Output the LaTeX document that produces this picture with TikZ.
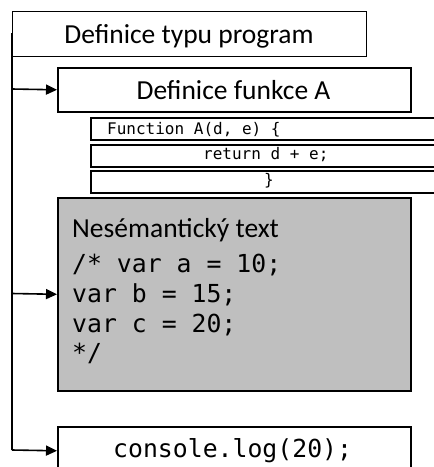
\documentclass[tikz,border=0pt]{standalone}
\usepackage{fontspec}
\setmainfont{Carlito}
\newfontfamily\codefont{DejaVu Sans Mono}
\usetikzlibrary{arrows.meta}
\definecolor{boxgray}{RGB}{191,191,191}
\begin{document}
\begin{tikzpicture}[x=1pt,y=-1pt,
  box/.style={draw=black, line width=1.6pt, inner sep=0pt, anchor=north west},
  thinbox/.style={draw=black, line width=1.1pt, inner sep=0pt, anchor=north west},
  codebox/.style={draw=black, line width=2pt, inner sep=0pt, anchor=north west, minimum height=22pt, minimum width=380pt},
  lbl/.style={inner sep=0pt, anchor=base west},
  big/.style={font=\fontsize{27.5}{30}\selectfont},
  smallcode/.style={font=\codefont\fontsize{16}{18}\selectfont},
  bigcode/.style={font=\codefont\fontsize{24.8}{28}\selectfont},
  link/.style={line width=1.6pt, -{Triangle[length=11pt,width=10pt]}},
  spine/.style={line width=2pt}
]
\useasboundingbox (0,0) rectangle (434,467);
\clip (0,0) rectangle (434,467);

% boxes
\node[thinbox, minimum width=354pt, minimum height=45pt] (prog) at (12,11) {};
\node[lbl, anchor=base, big] (progt) at (189,43) {Definice typu program};

\node[box, minimum width=353pt, minimum height=44pt] (fun) at (57,67) {};
\node[lbl, anchor=base, big] (funt) at (233.5,99) {Definice funkce A};

\node[codebox] (r1) at (90,117) {};
\node[codebox] (r2) at (90,144) {};
\node[codebox] (r3) at (90,170) {};
\node[lbl, smallcode] (r1t) at (107,134) {Function A(d, e) \{};
\node[lbl, smallcode] (r2t) at (203,159) {return d + e;};
\node[lbl, smallcode] (r3t) at (264,185) {\}};

\node[box, fill=boxgray, minimum width=353pt, minimum height=193pt] (gray) at (57,197) {};
\node[lbl, big] (gt1) at (72,237) {Nesémantický text};
\node[lbl, bigcode] (gt2) at (72,272) {/* var a = 10;};
\node[lbl, bigcode] (gt3) at (72,302) {var b = 15;};
\node[lbl, bigcode] (gt4) at (72,332) {var c = 20;};
\node[lbl, bigcode] (gt5) at (72,361) {*/};

\node[box, minimum width=353pt, minimum height=48pt] (log) at (57,426) {};
\node[lbl, bigcode] (logt) at (113,457) {console.log(20);};

% connectors
\coordinate (s0) at (12,33);
\coordinate (s1) at (12,89);
\coordinate (s2) at (12,293.5);
\coordinate (s3) at (12,450);
\draw[spine] (s0) -- (s3);
\draw[link] (s1) -- (fun.west);
\draw[link] (s2) -- (gray.west);
\draw[link] (s3) -- (log.west);
\end{tikzpicture}
\end{document}
